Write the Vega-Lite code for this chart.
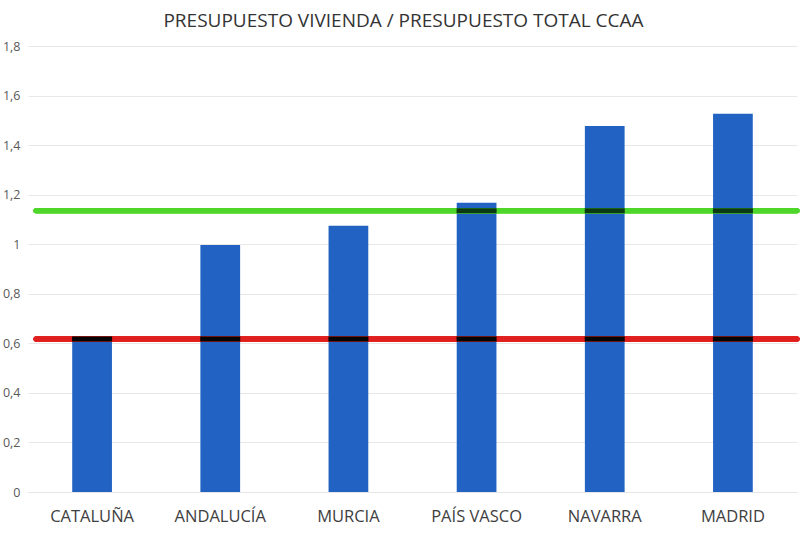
{
  "$schema": "https://vega.github.io/schema/vega-lite/v6.json",
  "width": 769,
  "height": 446,
  "autosize": {"type": "none"},
  "padding": {"left": 28, "top": 46, "right": 3, "bottom": 44},
  "background": "white",
  "title": {
    "text": "PRESUPUESTO VIVIENDA / PRESUPUESTO TOTAL CCAA",
    "font": "Open Sans",
    "fontSize": 19,
    "fontWeight": "normal",
    "color": "#333333",
    "anchor": "middle",
    "offset": 9,
    "dx": -9
  },
  "config": {
    "view": {"stroke": null},
    "axis": {"labelFont": "Open Sans", "titleFont": "Open Sans"}
  },
  "data": {
    "values": [
      {"ccaa": "CATALUÑA", "v": 0.62},
      {"ccaa": "ANDALUCÍA", "v": 0.997},
      {"ccaa": "MURCIA", "v": 1.075},
      {"ccaa": "PAÍS VASCO", "v": 1.167},
      {"ccaa": "NAVARRA", "v": 1.477},
      {"ccaa": "MADRID", "v": 1.527}
    ]
  },
  "encoding": {
    "x": {
      "field": "ccaa",
      "type": "nominal",
      "sort": null,
      "scale": {"paddingInner": 0.69, "paddingOuter": 0.345},
      "axis": {
        "title": null,
        "labelAngle": 0,
        "labelFontSize": 16.5,
        "labelColor": "#404040",
        "labelPadding": 16,
        "ticks": false,
        "domain": true,
        "domainColor": "#e6e6e6",
        "grid": false
      }
    }
  },
  "layer": [
    {
      "mark": {"type": "bar", "color": "#2262c2"},
      "encoding": {
        "y": {
          "field": "v",
          "type": "quantitative",
          "scale": {"domain": [0, 1.8], "nice": false},
          "axis": {
            "title": null,
            "values": [0, 0.2, 0.4, 0.6, 0.8, 1, 1.2, 1.4, 1.6, 1.8],
            "labelExpr": "replace(format(datum.value, '.1~f'), '.', ',')",
            "labelFontSize": 12.5,
            "labelColor": "#595959",
            "labelPadding": 8,
            "ticks": false,
            "domain": false,
            "gridColor": "#e8e8e8",
            "gridWidth": 1
          }
        }
      }
    },
    {
      "mark": {"type": "rule", "color": "#4fd62a", "strokeWidth": 5, "strokeCap": "round"},
      "encoding": {"y": {"datum": 1.135}, "x": {"value": 8}, "x2": {"value": 769}}
    },
    {
      "mark": {"type": "rule", "color": "#e0201e", "strokeWidth": 5, "strokeCap": "round"},
      "encoding": {"y": {"datum": 0.617}, "x": {"value": 8}, "x2": {"value": 769}}
    },
    {
      "transform": [{"filter": "datum.v >= 1.135"}],
      "mark": {"type": "tick", "color": "#0b3a12", "thickness": 5, "size": 40, "opacity": 1},
      "encoding": {"y": {"datum": 1.135}}
    },
    {
      "transform": [{"filter": "datum.v >= 0.6"}],
      "mark": {"type": "tick", "color": "#050505", "thickness": 5, "size": 40, "opacity": 1},
      "encoding": {"y": {"datum": 0.617}}
    }
  ]
}
